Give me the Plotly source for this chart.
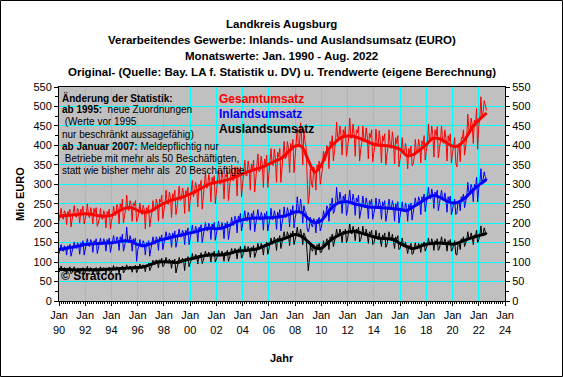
import plotly.graph_objects as go
import pandas as pd

# ---------------- data ----------------
months = pd.date_range("1990-01-01", periods=392, freq="MS")
trend_dates = list(pd.date_range("1990-01-01", "2022-07-01", freq="6MS")) + [pd.Timestamp("2022-08-01")]

gesamt = [
    205, 218, 238, 214, 210, 232, 226, 196, 230, 224, 236, 190,  # 1990
    208, 220, 245, 218, 215, 238, 230, 200, 236, 228, 244, 198,  # 1991
    212, 224, 250, 220, 214, 240, 228, 198, 238, 226, 240, 192,  # 1992
    200, 214, 238, 212, 210, 232, 222, 188, 230, 222, 236, 185,  # 1993
    205, 218, 244, 222, 220, 248, 240, 198, 250, 238, 262, 200,  # 1994
    220, 236, 272, 236, 232, 258, 248, 205, 252, 244, 258, 204,  # 1995
    212, 226, 252, 228, 222, 246, 236, 185, 240, 232, 246, 190,  # 1996
    212, 228, 258, 234, 232, 262, 250, 205, 262, 254, 272, 212,  # 1997
    232, 250, 285, 252, 248, 280, 266, 215, 276, 266, 285, 222,  # 1998
    240, 262, 295, 258, 262, 290, 278, 225, 284, 272, 292, 230,  # 1999
    255, 272, 310, 268, 280, 305, 290, 242, 300, 292, 310, 236,  # 2000
    270, 290, 330, 290, 292, 325, 310, 255, 318, 305, 322, 250,  # 2001
    285, 300, 338, 302, 300, 335, 315, 262, 325, 318, 335, 258,  # 2002
    290, 310, 350, 310, 310, 345, 330, 270, 340, 328, 345, 268,  # 2003
    305, 325, 362, 322, 322, 360, 342, 285, 352, 340, 362, 280,  # 2004
    315, 336, 378, 332, 335, 372, 352, 292, 365, 352, 375, 292,  # 2005
    330, 350, 392, 350, 348, 390, 368, 305, 382, 370, 392, 305,  # 2006
    345, 366, 410, 365, 370, 410, 392, 330, 405, 392, 415, 330,  # 2007
    380, 400, 445, 398, 400, 458, 420, 350, 440, 410, 395, 320,  # 2008
    250, 275, 340, 300, 292, 345, 335, 285, 350, 340, 360, 300,  # 2009
    320, 340, 385, 360, 362, 400, 392, 340, 410, 400, 425, 360,  # 2010
    385, 410, 460, 420, 418, 450, 425, 375, 440, 425, 448, 372,  # 2011
    395, 420, 470, 418, 420, 455, 430, 372, 440, 432, 450, 360,  # 2012
    390, 408, 450, 415, 410, 445, 425, 365, 432, 420, 440, 358,  # 2013
    380, 400, 442, 405, 398, 438, 412, 355, 425, 412, 430, 350,  # 2014
    378, 396, 440, 400, 392, 435, 410, 352, 420, 405, 425, 345,  # 2015
    365, 382, 420, 382, 378, 405, 385, 340, 392, 378, 398, 348,  # 2016
    352, 372, 415, 380, 382, 415, 400, 355, 412, 400, 425, 362,  # 2017
    385, 405, 455, 412, 410, 450, 428, 370, 440, 425, 448, 368,  # 2018
    392, 412, 450, 410, 405, 440, 418, 360, 425, 410, 430, 355,  # 2019
    380, 400, 420, 355, 345, 390, 405, 358, 420, 418, 440, 375,  # 2020
    400, 420, 480, 440, 432, 470, 455, 405, 465, 450, 495, 390,  # 2021
    450, 470, 525, 470, 485, 515, 505, 490,                      # 2022
]

inland = [
    122, 132, 145, 130, 128, 142, 138, 118, 142, 136, 146, 115,  # 1990
    128, 136, 152, 138, 135, 150, 145, 120, 150, 142, 155, 118,  # 1991
    135, 145, 160, 142, 140, 158, 150, 125, 155, 148, 160, 122,  # 1992
    138, 148, 162, 146, 145, 160, 152, 128, 158, 150, 162, 125,  # 1993
    140, 150, 168, 150, 148, 165, 158, 130, 165, 155, 172, 128,  # 1994
    142, 155, 190, 152, 150, 168, 158, 128, 160, 152, 162, 102,  # 1995
    130, 140, 158, 142, 138, 155, 148, 118, 150, 145, 155, 115,  # 1996
    132, 145, 165, 148, 146, 165, 158, 130, 165, 158, 170, 132,  # 1997
    145, 158, 178, 160, 158, 175, 168, 138, 175, 166, 180, 138,  # 1998
    152, 166, 185, 165, 165, 182, 175, 145, 182, 174, 188, 145,  # 1999
    160, 172, 195, 175, 175, 192, 182, 152, 190, 182, 196, 150,  # 2000
    168, 182, 202, 182, 180, 200, 192, 158, 198, 188, 202, 156,  # 2001
    170, 184, 205, 185, 182, 202, 192, 160, 200, 190, 204, 158,  # 2002
    178, 192, 215, 195, 195, 218, 210, 175, 218, 210, 225, 180,  # 2003
    195, 208, 232, 208, 205, 228, 218, 182, 225, 215, 232, 178,  # 2004
    195, 210, 235, 210, 208, 228, 218, 182, 225, 215, 230, 180,  # 2005
    196, 212, 238, 210, 210, 232, 220, 184, 228, 218, 235, 180,  # 2006
    200, 215, 242, 215, 215, 240, 228, 190, 235, 226, 245, 188,  # 2007
    212, 228, 268, 235, 230, 262, 242, 200, 245, 230, 228, 185,  # 2008
    178, 190, 215, 195, 190, 212, 205, 175, 210, 205, 215, 180,  # 2009
    190, 205, 232, 218, 215, 245, 238, 205, 250, 245, 265, 225,  # 2010
    232, 250, 292, 255, 250, 280, 262, 225, 270, 258, 275, 220,  # 2011
    235, 255, 285, 252, 250, 275, 258, 220, 265, 255, 272, 212,  # 2012
    228, 245, 270, 245, 240, 265, 250, 212, 258, 248, 262, 210,  # 2013
    225, 240, 265, 240, 238, 262, 248, 210, 255, 245, 258, 205,  # 2014
    222, 238, 262, 238, 235, 258, 245, 205, 250, 240, 255, 200,  # 2015
    218, 232, 255, 232, 230, 252, 240, 205, 248, 238, 252, 208,  # 2016
    225, 240, 265, 245, 245, 268, 258, 222, 268, 260, 275, 230,  # 2017
    248, 265, 292, 265, 262, 288, 272, 238, 280, 270, 285, 232,  # 2018
    248, 265, 285, 262, 258, 278, 262, 228, 268, 258, 270, 222,  # 2019
    238, 252, 262, 222, 225, 255, 258, 232, 268, 262, 275, 240,  # 2020
    255, 270, 305, 280, 278, 300, 290, 255, 300, 290, 318, 255,  # 2021
    290, 305, 340, 300, 312, 332, 320, 315,                      # 2022
]

ausland = [
    74, 80, 90, 79, 78, 86, 82, 70, 85, 82, 88, 70,              # 1990
    73, 79, 88, 78, 77, 85, 81, 69, 84, 81, 86, 68,              # 1991
    72, 79, 89, 78, 76, 86, 80, 68, 84, 80, 86, 68,              # 1992
    72, 79, 88, 79, 78, 86, 82, 70, 85, 82, 87, 70,              # 1993
    75, 81, 91, 81, 80, 88, 84, 72, 86, 84, 90, 72,              # 1994
    76, 83, 93, 83, 82, 90, 86, 74, 88, 86, 92, 73,              # 1995
    78, 85, 95, 85, 84, 93, 89, 75, 92, 90, 97, 78,              # 1996
    85, 92, 105, 94, 94, 106, 101, 85, 106, 102, 110, 88,        # 1997
    92, 100, 112, 100, 98, 108, 102, 84, 105, 100, 108, 72,      # 1998
    90, 98, 112, 100, 98, 110, 105, 78, 110, 104, 114, 88,       # 1999
    98, 106, 122, 108, 108, 120, 114, 95, 118, 112, 124, 96,     # 2000
    104, 115, 128, 116, 114, 126, 120, 100, 124, 118, 128, 100,  # 2001
    106, 116, 130, 118, 116, 128, 121, 102, 126, 120, 130, 102,  # 2002
    110, 120, 135, 122, 122, 135, 128, 108, 134, 128, 140, 110,  # 2003
    116, 128, 142, 128, 128, 140, 133, 112, 138, 132, 142, 112,  # 2004
    120, 132, 148, 134, 134, 148, 140, 118, 146, 142, 152, 120,  # 2005
    132, 145, 162, 146, 148, 164, 155, 130, 162, 156, 168, 135,  # 2006
    148, 160, 178, 160, 160, 178, 168, 142, 175, 168, 180, 145,  # 2007
    156, 170, 190, 168, 166, 185, 170, 145, 175, 165, 160, 125,  # 2008
    78, 105, 142, 132, 128, 145, 138, 118, 145, 138, 148, 125,   # 2009
    125, 135, 155, 142, 142, 160, 155, 132, 165, 158, 172, 140,  # 2010
    150, 165, 185, 168, 166, 185, 175, 150, 180, 172, 185, 150,  # 2011
    160, 175, 198, 175, 172, 192, 180, 155, 185, 178, 190, 152,  # 2012
    158, 172, 192, 172, 168, 185, 172, 148, 178, 170, 182, 145,  # 2013
    148, 162, 182, 162, 158, 175, 162, 140, 170, 162, 175, 138,  # 2014
    145, 158, 178, 158, 155, 172, 158, 135, 165, 158, 168, 132,  # 2015
    135, 146, 162, 145, 140, 152, 140, 122, 142, 138, 148, 120,  # 2016
    122, 135, 150, 135, 134, 148, 142, 125, 148, 142, 152, 128,  # 2017
    135, 145, 162, 145, 145, 160, 150, 130, 155, 148, 160, 130,  # 2018
    135, 148, 165, 146, 145, 160, 150, 128, 155, 148, 158, 128,  # 2019
    132, 145, 155, 120, 118, 145, 150, 132, 160, 155, 165, 140,  # 2020
    148, 158, 178, 160, 158, 175, 165, 145, 170, 165, 182, 150,  # 2021
    158, 170, 193, 168, 172, 188, 178, 176,                      # 2022
]

# trend values (January / July of each year, last point Aug 2022)
gesamt_trend = [
    218, 220, 221, 223, 224, 223, 219, 218, 220, 230, 238, 240,
    233, 228, 231, 242, 251, 258, 263, 268, 275, 283, 293, 301,
    305, 308, 313, 320, 327, 333, 339, 344, 352, 360, 368, 384,
    398, 397, 362, 331, 350, 388, 406, 420, 424, 423, 417, 410,
    403, 400, 399, 396, 390, 374, 376, 388, 402, 418, 417, 408,
    398, 400, 418, 446, 465, 480, 484,
]
inland_trend = [
    132, 135, 138, 141, 145, 147, 148, 149, 150, 152, 155, 153,
    145, 142, 147, 154, 159, 163, 167, 171, 175, 179, 184, 187,
    186, 188, 195, 204, 209, 212, 213, 213, 214, 215, 217, 222,
    229, 228, 212, 201, 207, 228, 246, 254, 255, 250, 246, 242,
    241, 240, 239, 237, 235, 232, 242, 252, 263, 271, 267, 258,
    252, 255, 266, 283, 298, 310, 314,
]
ausland_trend = [
    81, 81, 80, 80, 80, 80, 80, 81, 82, 83, 84, 85,
    86, 88, 94, 100, 101, 100, 99, 104, 108, 112, 116, 118,
    118, 119, 122, 127, 129, 131, 133, 139, 146, 154, 158, 165,
    171, 166, 152, 137, 136, 150, 163, 172, 177, 179, 175, 170,
    165, 161, 160, 158, 148, 140, 135, 140, 146, 148, 149, 148,
    146, 150, 157, 163, 168, 173, 176,
]

tick_years = list(range(1990, 2025, 2))
tick_dates = [f"{y}-01-01" for y in tick_years]
tick_labels = [f"Jan<br>{y % 100:02d}" for y in tick_years]
y_ticks = list(range(0, 551, 50))

title_lines = [
    "Landkreis Augsburg",
    "Verarbeitendes Gewerbe: Inlands- und Auslandsumsatz (EURO)",
    "Monatswerte: Jan. 1990 - Aug. 2022",
    "Original- (Quelle: Bay. LA f. Statistik u. DV) u. Trendwerte (eigene Berechnung)",
]
note_lines = [
    "<b>Änderung der Statistik:</b>",
    "<b>ab 1995:</b>  neue Zuordnungen",
    " (Werte vor 1995",
    "nur beschränkt aussagefähig)",
    "<b>ab Januar 2007:</b> Meldepflichtig nur",
    " Betriebe mit mehr als 50 Beschäftigten,",
    "statt wie bisher mehr als  20 Beschäftigte",
]
series_names = ["Gesamtumsatz", "Inlandsumsatz", "Auslandsumsatz"]
series_colors = ["#FF0000", "#0000FF", "#000000"]

# ---------------- layout helpers ----------------
W, H = 563, 377
L, R, T, B = 59, 505, 87, 301  # plot area in pixels
FONT = "Arial, Liberation Sans, sans-serif"


def px(xp):
    return (xp - L) / (R - L)


def py(yp):
    return (B - yp) / (B - T)


fig = go.Figure()

raws = [gesamt, inland, ausland]
trends = [gesamt_trend, inland_trend, ausland_trend]
for vals, col in zip(raws, series_colors):
    fig.add_trace(go.Scatter(x=months, y=vals, mode="lines",
                             line=dict(color=col, width=1), hoverinfo="skip"))
for vals, col in zip(trends, series_colors):
    fig.add_trace(go.Scatter(x=trend_dates, y=vals, mode="lines",
                             line=dict(color=col, width=3, shape="spline", smoothing=0.8),
                             hoverinfo="skip"))
# invisible trace for right axis
fig.add_trace(go.Scatter(x=[months[0]], y=[0], yaxis="y2", mode="markers",
                         marker=dict(opacity=0), hoverinfo="skip"))

annotations = []
for i, t in enumerate(title_lines):
    annotations.append(dict(text=f"<b>{t}</b>", x=px(281.5), y=py(24 + 16 * i),
                            xref="paper", yref="paper", showarrow=False,
                            xanchor="center", yanchor="middle",
                            font=dict(family=FONT, size=11.5, color="black")))
for i, t in enumerate(note_lines):
    annotations.append(dict(text=t, x=px(60), y=py(97.5 + 12.2 * i),
                            xref="paper", yref="paper", showarrow=False,
                            xanchor="left", yanchor="middle",
                            font=dict(family=FONT, size=10, color="black")))
for i, (n, c) in enumerate(zip(series_names, series_colors)):
    annotations.append(dict(text=f"<b>{n}</b>", x=px(217), y=py(99 + 15.2 * i),
                            xref="paper", yref="paper", showarrow=False,
                            xanchor="left", yanchor="middle",
                            font=dict(family=FONT, size=12, color=c)))
annotations.append(dict(text="<b>© Stratcon</b>", x=px(59), y=py(276),
                        xref="paper", yref="paper", showarrow=False,
                        xanchor="left", yanchor="middle",
                        font=dict(family=FONT, size=12, color="black")))
annotations.append(dict(text="<b>Mio EURO</b>", x=px(20), y=py(194),
                        xref="paper", yref="paper", showarrow=False, textangle=-90,
                        xanchor="center", yanchor="middle",
                        font=dict(family=FONT, size=11, color="black")))
annotations.append(dict(text="<b>Jahr</b>", x=px(281.5), y=py(358),
                        xref="paper", yref="paper", showarrow=False,
                        xanchor="center", yanchor="middle",
                        font=dict(family=FONT, size=11, color="black")))

shapes = [dict(type="rect", xref="paper", yref="paper",
               x0=px(0.5), x1=px(W - 0.5), y0=py(H - 0.5), y1=py(0.5),
               line=dict(color="black", width=1), fillcolor="rgba(0,0,0,0)", layer="below")]

fig.update_layout(
    width=W, height=H,
    margin=dict(l=L, r=W - R, t=T, b=H - B, pad=0),
    paper_bgcolor="white", plot_bgcolor="#C0C0C0",
    showlegend=False,
    font=dict(family=FONT, size=11, color="black"),
    annotations=annotations, shapes=shapes,
    xaxis=dict(type="date", range=["1990-01-01", "2024-01-01"],
               tickvals=tick_dates, ticktext=tick_labels,
               showgrid=True, gridcolor="#00FFFF", gridwidth=1,
               ticks="outside", ticklen=4, tickcolor="black",
               showline=True, linecolor="black", linewidth=1, mirror=True,
               tickfont=dict(family=FONT, size=11),
               minor=dict(dtick="M2", ticks="outside", ticklen=2, tickcolor="black", showgrid=False),
               zeroline=False, fixedrange=True),
    yaxis=dict(range=[0, 550], tickvals=y_ticks,
               showgrid=True, gridcolor="#00FFFF", gridwidth=1,
               ticks="outside", ticklen=4, tickcolor="black",
               showline=True, linecolor="black", linewidth=1,
               tickfont=dict(family=FONT, size=11),
               minor=dict(dtick=25, ticks="outside", ticklen=3, tickcolor="black", showgrid=False),
               zeroline=False),
    yaxis2=dict(range=[0, 550], tickvals=y_ticks, overlaying="y", side="right",
                showgrid=False, ticks="outside", ticklen=4, tickcolor="black",
                showline=True, linecolor="black", linewidth=1,
                tickfont=dict(family=FONT, size=11),
                minor=dict(dtick=25, ticks="outside", ticklen=3, tickcolor="black"),
                zeroline=False),
)

fig.write_html("out.html", config={"displayModeBar": False},
               post_script="document.body.style.margin='0';document.body.style.overflow='hidden';")
